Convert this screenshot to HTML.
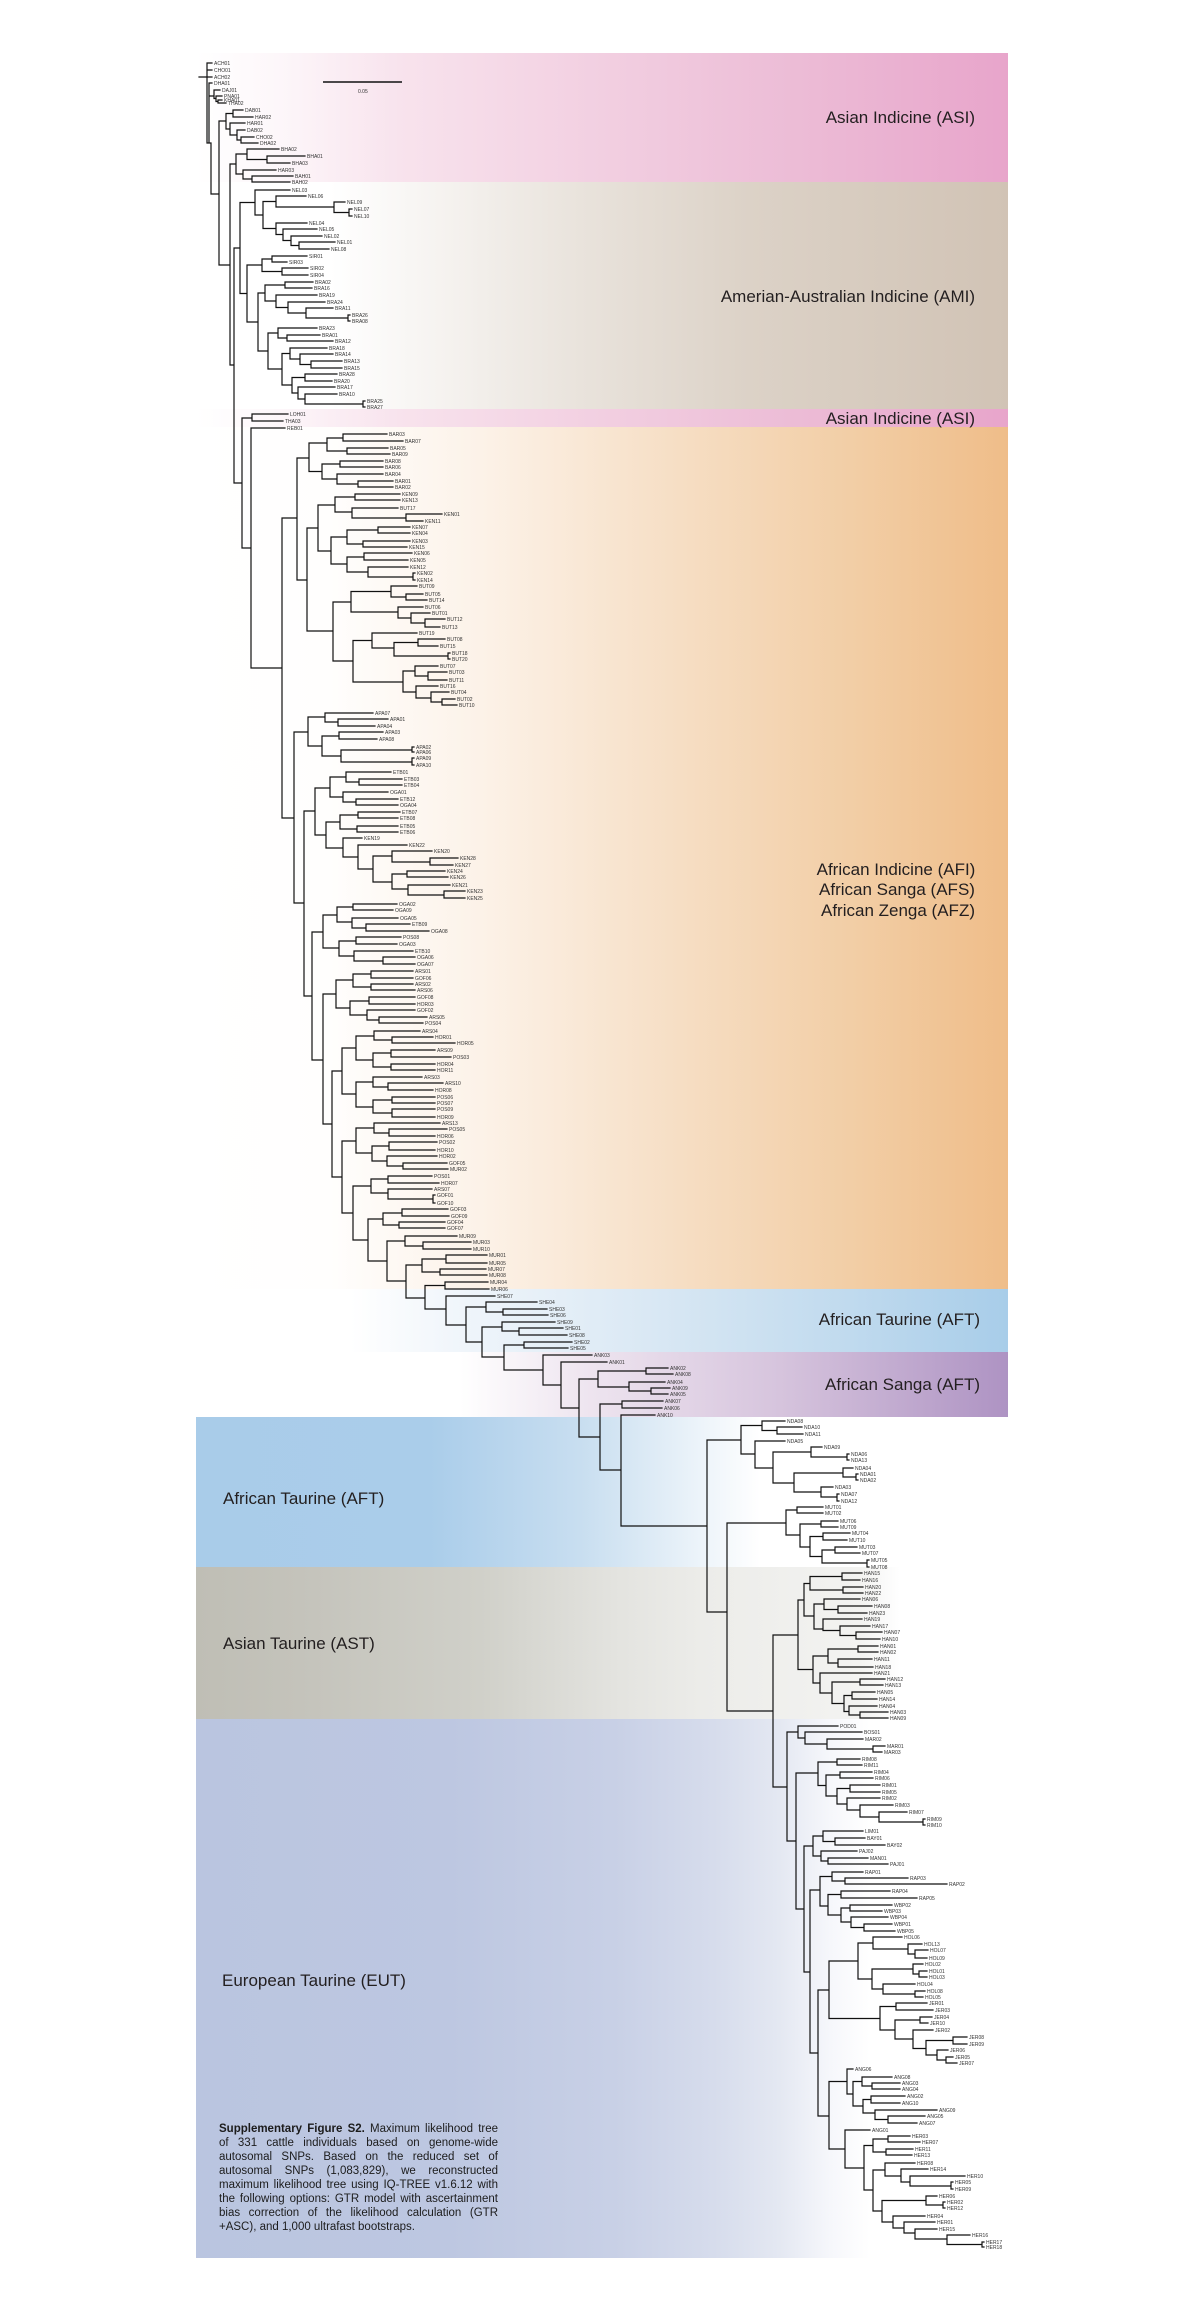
<!DOCTYPE html>
<html><head><meta charset="utf-8">
<style>
html,body{margin:0;padding:0;background:#fff;}
body{width:1200px;height:2310px;position:relative;overflow:hidden;font-family:"Liberation Sans",Arial,sans-serif;}
svg{position:absolute;left:0;top:0;}
.cap{position:absolute;left:219px;top:2122px;width:279px;font-size:11.5px;line-height:14px;color:#1c1c1c;font-family:"Liberation Sans",Arial,sans-serif;}
.cap div{text-align:justify;text-align-last:justify;}
.cap div.l{text-align:left;text-align-last:left;}
</style></head><body>
<svg width="1200" height="2310" viewBox="0 0 1200 2310" xmlns="http://www.w3.org/2000/svg">
<defs>
<linearGradient id="gASI" gradientUnits="userSpaceOnUse" x1="196" y1="0" x2="1008" y2="0">
<stop offset="0" stop-color="#ffffff"/><stop offset="0.10" stop-color="#fdf7fa"/><stop offset="0.25" stop-color="#f8e3ed"/><stop offset="0.50" stop-color="#f2cfe1"/><stop offset="0.74" stop-color="#ecbcd6"/><stop offset="1" stop-color="#e8a5cb"/>
</linearGradient>
<linearGradient id="gAMI" gradientUnits="userSpaceOnUse" x1="196" y1="0" x2="1008" y2="0">
<stop offset="0" stop-color="#ffffff"/><stop offset="0.165" stop-color="#ffffff"/><stop offset="0.31" stop-color="#f5f2ef"/><stop offset="0.473" stop-color="#e9e3dc"/><stop offset="0.68" stop-color="#dcd2c7"/><stop offset="1" stop-color="#d1c3b5"/>
</linearGradient>
<linearGradient id="gAFR" gradientUnits="userSpaceOnUse" x1="196" y1="0" x2="1008" y2="0">
<stop offset="0" stop-color="#ffffff"/><stop offset="0.165" stop-color="#fffefd"/><stop offset="0.35" stop-color="#fcf2e8"/><stop offset="0.596" stop-color="#f6dec4"/><stop offset="0.805" stop-color="#f2cea6"/><stop offset="1" stop-color="#efbd89"/>
</linearGradient>
<linearGradient id="gAFTR" gradientUnits="userSpaceOnUse" x1="196" y1="0" x2="1008" y2="0">
<stop offset="0" stop-color="#ffffff"/><stop offset="0.19" stop-color="#ffffff"/><stop offset="0.313" stop-color="#f1f6fb"/><stop offset="0.596" stop-color="#d6e6f3"/><stop offset="0.805" stop-color="#c0daee"/><stop offset="1" stop-color="#a8cde9"/>
</linearGradient>
<linearGradient id="gSAN" gradientUnits="userSpaceOnUse" x1="196" y1="0" x2="1008" y2="0">
<stop offset="0" stop-color="#ffffff"/><stop offset="0.325" stop-color="#ffffff"/><stop offset="0.473" stop-color="#efe6f0"/><stop offset="0.719" stop-color="#d6c4dd"/><stop offset="1" stop-color="#ae93c3"/>
</linearGradient>
<linearGradient id="gAFTL" gradientUnits="userSpaceOnUse" x1="196" y1="0" x2="1008" y2="0">
<stop offset="0" stop-color="#a9cce9"/><stop offset="0.288" stop-color="#aacdea"/><stop offset="0.473" stop-color="#c8def0"/><stop offset="0.596" stop-color="#e6f0f8"/><stop offset="0.695" stop-color="#ffffff"/><stop offset="1" stop-color="#ffffff"/>
</linearGradient>
<linearGradient id="gAST" gradientUnits="userSpaceOnUse" x1="196" y1="0" x2="1008" y2="0">
<stop offset="0" stop-color="#bfbeb5"/><stop offset="0.128" stop-color="#c4c3bb"/><stop offset="0.35" stop-color="#d0d0c9"/><stop offset="0.514" stop-color="#e3e3df"/><stop offset="0.621" stop-color="#ecece9"/><stop offset="0.818" stop-color="#f3f3f1"/><stop offset="0.867" stop-color="#ffffff"/><stop offset="1" stop-color="#ffffff"/>
</linearGradient>
<linearGradient id="gEUT" gradientUnits="userSpaceOnUse" x1="196" y1="0" x2="1008" y2="0">
<stop offset="0" stop-color="#bac5e0"/><stop offset="0.313" stop-color="#bdc7e1"/><stop offset="0.514" stop-color="#c8d0e6"/><stop offset="0.637" stop-color="#d6dcec"/><stop offset="0.719" stop-color="#e4e8f2"/><stop offset="0.781" stop-color="#f6f7fb"/><stop offset="0.83" stop-color="#ffffff"/><stop offset="1" stop-color="#ffffff"/>
</linearGradient>
</defs>

<rect x="196" y="53" width="812" height="129" fill="url(#gASI)"/>
<rect x="196" y="182" width="812" height="227" fill="url(#gAMI)"/>
<rect x="196" y="409" width="812" height="18" fill="url(#gASI)"/>
<rect x="196" y="427" width="812" height="862" fill="url(#gAFR)"/>
<rect x="196" y="1289" width="812" height="63" fill="url(#gAFTR)"/>
<rect x="196" y="1352" width="812" height="65" fill="url(#gSAN)"/>
<rect x="196" y="1417" width="812" height="150" fill="url(#gAFTL)"/>
<rect x="196" y="1567" width="812" height="152" fill="url(#gAST)"/>
<rect x="196" y="1719" width="812" height="539" fill="url(#gEUT)"/>

<g font-family="Liberation Sans, Arial, sans-serif" font-size="17" fill="#231f20">
<text x="975" y="123" text-anchor="end">Asian Indicine (ASI)</text>
<text x="975" y="302" text-anchor="end">Amerian-Australian Indicine (AMI)</text>
<text x="975" y="424" text-anchor="end">Asian Indicine (ASI)</text>
<text x="896" y="875" text-anchor="middle">African Indicine (AFI)</text>
<text x="897" y="895" text-anchor="middle">African Sanga (AFS)</text>
<text x="898" y="916" text-anchor="middle">African Zenga (AFZ)</text>
<text x="980" y="1325" text-anchor="end">African Taurine (AFT)</text>
<text x="980" y="1390" text-anchor="end">African Sanga (AFT)</text>
<text x="223" y="1504">African Taurine (AFT)</text>
<text x="223" y="1649">Asian Taurine (AST)</text>
<text x="222" y="1986">European Taurine (EUT)</text>
</g>

<path d="M323 82H402" stroke="#111" stroke-width="1.4" fill="none"/>
<text x="358" y="93" font-size="5" font-family="Liberation Sans, Arial, sans-serif" fill="#333">0.05</text>

<g stroke="#111" stroke-width="1.2" fill="none" stroke-linecap="square">
<path d="M199 77H207 M207 63V143 M209 83V143 M207 143H211 M211 143V194 M207 63H212 M207 70H212 M207 77H212 M209 83H212 M209 96H214 M214 90V98.5 M214 90H220 M214 98.5H216 M216 96V101.5 M216 96H222 M216 101.5H218 M218 100V103 M218 100H222 M218 103H226
M211 194H219 M219 121V265 M219 121H226 M226 113.5V129 M226 113.5H233 M233 110V117 M233 110H243 M233 117H253 M226 129H230 M230 123V135 M230 123H245 M230 135H237 M237 130V140 M237 130H245 M237 140H241 M241 137V143 M241 137H254 M241 143H258
M219 265H230 M230 164V365 M230 164H236 M236 154V174 M236 154H247 M247 149V159.5 M247 149H279 M247 159.5H267 M267 156V163 M267 156H305 M267 163H290 M236 174H243 M243 170V179 M243 170H276 M243 179H252 M252 176V182 M252 176H293 M252 182H290
M230 365H234 M234 248V483 M234 248H240 M240 202.5V293.5 M240 202.5H255 M255 190V215 M255 190H290 M255 215H263 M263 201.5V228.5 M263 201.5H276 M276 196V207 M276 196H306 M276 207H334 M334 202V212.5 M334 202H345 M334 212.5H349 M349 209V216 M349 209H352 M349 216H352 M263 228.5H276 M276 223V234.5 M276 223H307 M276 234.5H283 M283 229V240.5 M283 229H317 M283 240.5H291 M291 236V245.5 M291 236H322 M291 245.5H299 M299 242V249 M299 242H335 M299 249H329
M240 293.5H247 M247 265V322 M247 265H262 M262 259V271.5 M262 259H272 M272 256V262 M272 256H307 M272 262H287 M262 271.5H282 M282 268V275 M282 268H308 M282 275H308
M247 322H258 M258 293V351 M258 293H265 M265 285V301 M265 285H285 M285 282V288 M285 282H313 M285 288H312 M265 301H276 M276 295V307.5 M276 295H317 M276 307.5H288 M288 302V313 M288 302H325 M288 313H306 M306 308V318 M306 308H333 M306 318H348 M348 315V321 M348 315H350 M348 321H350
M258 351H268 M268 333V369 M268 333H278 M278 328V338 M278 328H317 M278 338H287 M287 335V341 M287 335H320 M287 341H333 M268 369H282 M282 353.5V385 M282 353.5H290 M290 348V359 M290 348H327 M290 359H300 M300 354V364.5 M300 354H333 M300 364.5H311 M311 361V368 M311 361H342 M311 368H342 M282 385H292 M292 377.5V393 M292 377.5H305 M305 374V381 M305 374H337 M305 381H332 M292 393H298 M298 387V399 M298 387H335 M298 399H305 M305 394V404 M305 394H337 M305 404H363 M363 401V407 M363 401H365 M363 407H365
M234 483H242 M242 418V548 M242 418H252 M252 414V421 M252 414H288 M252 421H283 M242 548H251 M251 428V668 M251 428H285 M251 668H282 M282 518V818
M282 518H297 M297 458V580 M297 458H309 M309 443V471.5 M309 443H327 M327 438V451 M327 438H343 M343 434V441 M343 434H387 M343 441H403 M327 451H347 M347 448V454 M347 448H388 M347 454H390 M309 471.5H322 M322 464V479 M322 464H340 M340 461V467 M340 461H383 M340 467H383 M322 479H337 M337 474V484 M337 474H383 M337 484H358 M358 481V487 M358 481H393 M358 487H393
M297 580H307 M307 528V631 M307 528H318 M318 505V551 M318 505H335 M335 497V512 M335 497H355 M355 494V500 M355 494H400 M355 500H400 M335 512H352 M352 508V518 M352 508H398 M352 518H406 M406 514V521 M406 514H442 M406 521H423 M318 551H331 M331 537V564 M331 537H347 M347 530V544 M347 530H378 M378 527V533 M378 527H410 M378 533H410 M347 544H363 M363 541V547 M363 541H410 M363 547H407 M331 564H347 M347 557V572 M347 557H364 M364 553V560 M364 553H412 M364 560H408 M347 572H368 M368 567V577 M368 567H408 M368 577H413 M413 573V580 M413 573H415 M413 580H415
M307 631H333 M333 602V661 M333 602H351 M351 591.5V612 M351 591.5H391 M391 586V597 M391 586H417 M391 597H406 M406 594V600 M406 594H423 M406 600H427 M351 612H398 M398 607V618 M398 607H423 M398 618H411 M411 613V623 M411 613H430 M411 623H425 M425 619V627 M425 619H445 M425 627H440 M333 661H353 M353 640.5V682 M353 640.5H372 M372 633V648 M372 633H417 M372 648H394 M394 642.5V656 M394 642.5H418 M418 639V646 M418 639H445 M418 646H438 M394 656H448 M448 653V659 M448 653H450 M448 659H450 M353 682H403 M403 671V692 M403 671H415 M415 666V676 M415 666H438 M415 676H428 M428 672V680 M428 672H447 M428 680H447 M403 692H416 M416 686V698 M416 686H438 M416 698H431 M431 692V702 M431 692H449 M431 702H442 M442 699V705 M442 699H455 M442 705H457
M282 818H294 M294 732V903 M294 732H308 M308 717V746 M308 717H325 M325 713V722 M325 713H373 M325 722H338 M338 719V726 M338 719H388 M338 726H375 M308 746H322 M322 736V756 M322 736H339 M339 732V739 M339 732H383 M339 739H377 M322 756H341 M341 750V762 M341 750H412 M412 747V752 M412 747H414 M412 752H414 M341 762H412 M412 758V765 M412 758H414 M412 765H414
M294 903H304 M304 811V996 M304 811H315 M315 788V835 M315 788H330 M330 777V797 M330 777H346 M346 772V782 M346 772H391 M346 782H359 M359 779V785 M359 779H402 M359 785H402 M330 797H343 M343 792V802 M343 792H388 M343 802H356 M356 799V805 M356 799H398 M356 805H398 M315 835H326 M326 822V848 M326 822H340 M340 815V829 M340 815H358 M358 812V818 M358 812H400 M358 818H398 M340 829H357 M357 826V832 M357 826H398 M357 832H398 M326 848H343 M343 838V857 M343 838H362 M343 857H358 M358 845V869 M358 845H407 M358 869H373 M373 856V882 M373 856H392 M392 851V862 M392 851H432 M392 862H430 M430 858V865 M430 858H458 M430 865H453 M373 882H392 M392 874V889 M392 874H407 M407 871V877 M407 871H445 M407 877H448 M392 889H408 M408 885V895 M408 885H450 M408 895H444 M444 891V898 M444 891H465 M444 898H465
M304 996H312 M312 932V1060 M312 932H323 M323 915V948 M323 915H337 M337 907V922 M337 907H353 M353 904V910 M353 904H397 M353 910H393 M337 922H352 M352 918V928 M352 918H398 M352 928H366 M366 924V931 M366 924H410 M366 931H429 M323 948H339 M339 941V956 M339 941H356 M356 937V944 M356 937H401 M356 944H397 M339 956H354 M354 951V961 M354 951H413 M354 961H383 M383 957V964 M383 957H415 M383 964H415
M312 1060H323 M323 994V1124 M323 994H336 M336 980V1008 M336 980H353 M353 974V987 M353 974H371 M371 971V978 M371 971H413 M371 978H413 M353 987H371 M371 984V990 M371 984H413 M371 990H415 M336 1008H350 M350 1001V1015 M350 1001H369 M369 997V1004 M369 997H415 M369 1004H415 M350 1015H367 M367 1010V1020 M367 1010H415 M367 1020H379 M379 1017V1023 M379 1017H427 M379 1023H423
M323 1124H332 M332 1071V1177 M332 1071H342 M342 1048V1094 M342 1048H356 M356 1036V1060 M356 1036H374 M374 1031V1040 M374 1031H420 M374 1040H392 M392 1037V1043 M392 1037H433 M392 1043H455 M356 1060H373 M373 1053V1067 M373 1053H391 M391 1050V1057 M391 1050H435 M391 1057H451 M373 1067H391 M391 1064V1070 M391 1064H435 M391 1070H435 M342 1094H356 M356 1082V1107 M356 1082H373 M373 1077V1087 M373 1077H422 M373 1087H388 M388 1083V1090 M388 1083H443 M388 1090H433 M356 1107H373 M373 1100V1113 M373 1100H392 M392 1097V1103 M392 1097H435 M392 1103H435 M373 1113H392 M392 1109V1117 M392 1109H435 M392 1117H435
M332 1177H342 M342 1141V1213 M342 1141H356 M356 1128V1153 M356 1128H374 M374 1123V1133 M374 1123H440 M374 1133H389 M389 1129V1136 M389 1129H447 M389 1136H435 M356 1153H372 M372 1146V1161 M372 1146H389 M389 1142V1150 M389 1142H437 M389 1150H435 M372 1161H387 M387 1156V1166 M387 1156H437 M387 1166H403 M403 1163V1169 M403 1163H447 M403 1169H448
M342 1213H353 M353 1186V1240 M353 1186H371 M371 1179V1193 M371 1179H388 M388 1176V1183 M388 1176H432 M388 1183H439 M371 1193H388 M388 1189V1199 M388 1189H432 M388 1199H433 M433 1195V1203 M433 1195H435 M433 1203H435 M353 1240H368 M368 1219V1261 M368 1219H383 M383 1213V1225 M383 1213H402 M402 1209V1216 M402 1209H448 M402 1216H449 M383 1225H399 M399 1222V1228 M399 1222H445 M399 1228H445
M368 1261H387 M387 1241V1281 M387 1241H405 M405 1236V1246 M405 1236H457 M405 1246H423 M423 1242V1249 M423 1242H471 M423 1249H471 M387 1281H406 M406 1265V1298 M406 1265H422 M422 1259V1272 M422 1259H446 M446 1255V1263 M446 1255H487 M446 1263H487 M422 1272H440 M440 1269V1275 M440 1269H486 M440 1275H487 M406 1298H425 M425 1285.5V1309 M425 1285.5H445 M445 1282V1289 M445 1282H488 M445 1289H489
M425 1309H446 M446 1296V1325 M446 1296H495 M446 1325H466 M466 1307V1342 M466 1307H486 M486 1302V1312 M486 1302H537 M486 1312H503 M503 1309V1315 M503 1309H547 M503 1315H548 M466 1342H482 M482 1327V1357 M482 1327H502 M502 1322V1331 M502 1322H555 M502 1331H519 M519 1328V1335 M519 1328H563 M519 1335H567 M482 1357H504 M504 1345V1370 M504 1345H524 M524 1342V1348 M524 1342H572 M524 1348H568
M504 1370H543 M543 1355V1385 M543 1355H592 M543 1385H561 M561 1362V1408 M561 1362H607 M561 1408H579 M579 1379V1437 M579 1379H598 M598 1371V1387 M598 1371H646 M646 1368V1374 M646 1368H668 M646 1374H673 M598 1387H629 M629 1382V1391 M629 1382H665 M629 1391H651 M651 1388V1394 M651 1388H670 M651 1394H668 M579 1437H600 M600 1404V1470 M600 1404H622 M622 1401V1408 M622 1401H663 M622 1408H662 M600 1470H621 M621 1415V1526 M621 1415H655 M621 1526H707 M707 1440V1612
M707 1440H741 M741 1425.5V1454 M741 1425.5H762 M762 1421V1430.5 M762 1421H785 M762 1430.5H777 M777 1427V1434 M777 1427H802 M777 1434H803 M741 1454H755 M755 1441V1468 M755 1441H785 M755 1468H773 M773 1452V1483 M773 1452H811 M811 1447V1457 M811 1447H822 M811 1457H847 M847 1454V1460 M847 1454H849 M847 1460H849 M773 1483H794 M794 1473V1492 M794 1473H843 M843 1468V1477 M843 1468H853 M843 1477H856 M856 1474V1480 M856 1474H858 M856 1480H858 M794 1492H821 M821 1487V1497 M821 1487H833 M821 1497H837 M837 1494V1501 M837 1494H839 M837 1501H839
M707 1612H727 M727 1523V1711 M727 1523H786 M786 1510V1535 M786 1510H797 M797 1507V1513 M797 1507H823 M797 1513H823 M786 1535H800 M800 1524V1547 M800 1524H821 M821 1521V1527 M821 1521H838 M821 1527H838 M800 1547H810 M810 1536.5V1556.5 M810 1536.5H823 M823 1533V1540 M823 1533H850 M823 1540H847 M810 1556.5H822 M822 1550V1563 M822 1550H835 M835 1547V1553 M835 1547H857 M835 1553H860 M822 1563H867 M867 1560V1567 M867 1560H869 M867 1567H869
M727 1711H773 M773 1635V1787 M773 1635H798 M798 1600V1669.5 M798 1600H804 M804 1583.5V1616 M804 1583.5H810 M810 1576.5V1590 M810 1576.5H842 M842 1573V1580 M842 1573H862 M842 1580H860 M810 1590H843 M843 1587V1593 M843 1587H863 M843 1593H863 M804 1616H814 M814 1604V1629 M814 1604H824 M824 1599V1609.5 M824 1599H860 M824 1609.5H838 M838 1606V1613 M838 1606H872 M838 1613H867 M814 1629H823 M823 1619V1630.5 M823 1619H862 M823 1630.5H840 M840 1626V1635.5 M840 1626H870 M840 1635.5H856 M856 1632V1639 M856 1632H882 M856 1639H880
M798 1669.5H813 M813 1656V1683 M813 1656H828 M828 1649V1663 M828 1649H858 M858 1646V1652 M858 1646H878 M858 1652H878 M828 1663H838 M838 1659V1667 M838 1659H872 M838 1667H873 M813 1683H820 M820 1673V1693 M820 1673H872 M820 1693H832 M832 1682V1703.5 M832 1682H860 M860 1679V1685 M860 1679H885 M860 1685H883 M832 1703.5H844 M844 1695.5V1711.5 M844 1695.5H852 M852 1692V1699 M852 1692H875 M852 1699H877 M844 1711.5H849 M849 1706V1715 M849 1706H877 M849 1715H860 M860 1712V1718 M860 1712H888 M860 1718H888
M773 1787H787 M787 1732V1841 M787 1732H798 M798 1726V1738 M798 1726H838 M798 1738H805 M805 1732V1744 M805 1732H862 M805 1744H827 M827 1739V1749 M827 1739H863 M827 1749H873 M873 1746V1752 M873 1746H885 M873 1752H882
M787 1841H796 M796 1773V1909 M796 1773H818 M818 1762V1785.5 M818 1762H837 M837 1759V1765 M837 1759H860 M837 1765H862 M818 1785.5H826 M826 1775V1796 M826 1775H840 M840 1772V1778 M840 1772H872 M840 1778H873 M826 1796H837 M837 1788.5V1804 M837 1788.5H850 M850 1785V1792 M850 1785H880 M850 1792H880 M837 1804H847 M847 1798V1810 M847 1798H880 M847 1810H860 M860 1805V1817 M860 1805H893 M860 1817H879 M879 1812V1822 M879 1812H907 M879 1822H923 M923 1819V1825 M923 1819H925 M923 1825H925
M796 1909H804 M804 1846V1972 M804 1846H813 M813 1836V1856 M813 1836H823 M823 1831V1841.5 M823 1831H863 M823 1841.5H835 M835 1838V1845 M835 1838H865 M835 1845H885 M813 1856H821 M821 1851V1861 M821 1851H857 M821 1861H828 M828 1858V1864 M828 1858H868 M828 1864H888
M804 1972H810 M810 1890V2053 M810 1890H820 M820 1876.5V1906 M820 1876.5H832 M832 1872V1881 M832 1872H863 M832 1881H845 M845 1878V1884 M845 1878H908 M845 1884H947 M820 1906H828 M828 1894.5V1915 M828 1894.5H841 M841 1891V1898 M841 1891H890 M841 1898H917 M828 1915H841 M841 1908V1922 M841 1908H850 M850 1905V1911 M850 1905H892 M850 1911H882 M841 1922H851 M851 1917V1927.5 M851 1917H888 M851 1927.5H864 M864 1924V1931 M864 1924H892 M864 1931H895
M810 2053H818 M818 1990V2116 M818 1990H829 M829 1961V2018.5 M829 1961H858 M858 1943V1979 M858 1943H873 M873 1937V1949 M873 1937H902 M873 1949H908 M908 1944V1954 M908 1944H922 M908 1954H915 M915 1950V1958 M915 1950H928 M915 1958H927 M858 1979H872 M872 1969V1989 M872 1969H913 M913 1964V1974 M913 1964H923 M913 1974H919 M919 1971V1977 M919 1971H927 M919 1977H927 M872 1989H883 M883 1984V1994 M883 1984H915 M883 1994H915 M915 1991V1997 M915 1991H925 M915 1997H923
M829 2018.5H880 M880 2006.5V2030 M880 2006.5H896 M896 2003V2010 M896 2003H927 M896 2010H933 M880 2030H895 M895 2020V2039 M895 2020H920 M920 2017V2023 M920 2017H932 M920 2023H928 M895 2039H913 M913 2030V2048.5 M913 2030H933 M913 2048.5H926 M926 2040.5V2055 M926 2040.5H953 M953 2037V2044 M953 2037H967 M953 2044H967 M926 2055H937 M937 2050V2060 M937 2050H948 M937 2060H946 M946 2057V2063 M946 2057H953 M946 2063H957
M818 2116H829 M829 2081.5V2149 M829 2081.5H847 M847 2069V2094 M847 2069H853 M847 2094H853 M853 2081.5V2106 M853 2081.5H862 M862 2077V2086 M862 2077H892 M862 2086H872 M872 2083V2089 M872 2083H900 M872 2089H900 M853 2106H863 M863 2099.5V2113 M863 2099.5H871 M871 2096V2103 M871 2096H905 M871 2103H900 M863 2113H875 M875 2110V2119.5 M875 2110H937 M875 2119.5H888 M888 2116V2123 M888 2116H925 M888 2123H917
M829 2149H845 M845 2130V2168 M845 2130H870 M845 2168H864 M864 2145.5V2190 M864 2145.5H873 M873 2139V2152 M873 2139H888 M888 2136V2142 M888 2136H910 M888 2142H920 M873 2152H886 M886 2149V2155 M886 2149H913 M886 2155H912 M864 2190H873 M873 2170V2211 M873 2170H885 M885 2163V2176 M885 2163H915 M885 2176H901 M901 2169V2182 M901 2169H928 M901 2182H910 M910 2176V2186 M910 2176H965 M910 2186H951 M951 2182V2189 M951 2182H953 M951 2189H953 M873 2211H882 M882 2200.5V2222 M882 2200.5H926 M926 2196V2205 M926 2196H937 M926 2205H943 M943 2202V2208 M943 2202H945 M943 2208H945 M882 2222H893 M893 2216V2228 M893 2216H925 M893 2228H904 M904 2222V2233 M904 2222H935 M904 2233H915 M915 2229V2239 M915 2229H937 M915 2239H947 M947 2235V2244.5 M947 2235H970 M947 2244.5H982 M982 2242V2247 M982 2242H984 M982 2247H984"/>
</g>

<g font-family="Liberation Sans, Arial, sans-serif" font-size="5" fill="#333">
<text x="214" y="64.8">ACH01</text><text x="214" y="71.8">CHO01</text><text x="214" y="78.8">ACH02</text><text x="214" y="84.8">DHA01</text><text x="222" y="91.8">DAJ01</text><text x="224" y="97.8">PNA01</text><text x="224" y="101.8">KHA01</text><text x="228" y="104.8">THA02</text>
<text x="245" y="111.8">DAB01</text><text x="255" y="118.8">HAR02</text><text x="247" y="124.8">HAR01</text><text x="247" y="131.8">DAB02</text><text x="256" y="138.8">CHO02</text><text x="260" y="144.8">DHA02</text>
<text x="281" y="150.8">BHA02</text><text x="307" y="157.8">BHA01</text><text x="292" y="164.8">BHA03</text><text x="278" y="171.8">HAR03</text><text x="295" y="177.8">BAH01</text><text x="292" y="183.8">BAH02</text>
<text x="292" y="191.8">NEL03</text><text x="308" y="197.8">NEL06</text><text x="347" y="203.8">NEL09</text><text x="354" y="210.8">NEL07</text><text x="354" y="217.8">NEL10</text><text x="309" y="224.8">NEL04</text><text x="319" y="230.8">NEL05</text><text x="324" y="237.8">NEL02</text><text x="337" y="243.8">NEL01</text><text x="331" y="250.8">NEL08</text>
<text x="309" y="257.8">SIR01</text><text x="289" y="263.8">SIR03</text><text x="310" y="269.8">SIR02</text><text x="310" y="276.8">SIR04</text>
<text x="315" y="283.8">BRA02</text><text x="314" y="289.8">BRA16</text><text x="319" y="296.8">BRA19</text><text x="327" y="303.8">BRA24</text><text x="335" y="309.8">BRA11</text><text x="352" y="316.8">BRA26</text><text x="352" y="322.8">BRA08</text><text x="319" y="329.8">BRA23</text><text x="322" y="336.8">BRA01</text><text x="335" y="342.8">BRA12</text><text x="329" y="349.8">BRA18</text><text x="335" y="355.8">BRA14</text><text x="344" y="362.8">BRA13</text><text x="344" y="369.8">BRA15</text><text x="339" y="375.8">BRA28</text><text x="334" y="382.8">BRA20</text><text x="337" y="388.8">BRA17</text><text x="339" y="395.8">BRA10</text><text x="367" y="402.8">BRA25</text><text x="367" y="408.8">BRA27</text>
<text x="290" y="415.8">LOH01</text><text x="285" y="422.8">THA03</text><text x="287" y="429.8">REB01</text>
<text x="389" y="435.8">BAR03</text><text x="405" y="442.8">BAR07</text><text x="390" y="449.8">BAR05</text><text x="392" y="455.8">BAR09</text><text x="385" y="462.8">BAR08</text><text x="385" y="468.8">BAR06</text><text x="385" y="475.8">BAR04</text><text x="395" y="482.8">BAR01</text><text x="395" y="488.8">BAR02</text>
<text x="402" y="495.8">KEN09</text><text x="402" y="501.8">KEN13</text><text x="400" y="509.8">BUT17</text><text x="444" y="515.8">KEN01</text><text x="425" y="522.8">KEN11</text><text x="412" y="528.8">KEN07</text><text x="412" y="534.8">KEN04</text><text x="412" y="542.8">KEN03</text><text x="409" y="548.8">KEN15</text><text x="414" y="554.8">KEN06</text><text x="410" y="561.8">KEN05</text><text x="410" y="568.8">KEN12</text><text x="417" y="574.8">KEN02</text><text x="417" y="581.8">KEN14</text>
<text x="419" y="587.8">BUT09</text><text x="425" y="595.8">BUT05</text><text x="429" y="601.8">BUT14</text><text x="425" y="608.8">BUT06</text><text x="432" y="614.8">BUT01</text><text x="447" y="620.8">BUT12</text><text x="442" y="628.8">BUT13</text><text x="419" y="634.8">BUT19</text><text x="447" y="640.8">BUT08</text><text x="440" y="647.8">BUT15</text><text x="452" y="654.8">BUT18</text><text x="452" y="660.8">BUT20</text><text x="440" y="667.8">BUT07</text><text x="449" y="673.8">BUT03</text><text x="449" y="681.8">BUT11</text><text x="440" y="687.8">BUT16</text><text x="451" y="693.8">BUT04</text><text x="457" y="700.8">BUT02</text><text x="459" y="706.8">BUT10</text>
<text x="375" y="714.8">APA07</text><text x="390" y="720.8">APA01</text><text x="377" y="727.8">APA04</text><text x="385" y="733.8">APA03</text><text x="379" y="740.8">APA08</text><text x="416" y="748.8">APA02</text><text x="416" y="753.8">APA06</text><text x="416" y="759.8">APA09</text><text x="416" y="766.8">APA10</text>
<text x="393" y="773.8">ETB01</text><text x="404" y="780.8">ETB03</text><text x="404" y="786.8">ETB04</text><text x="390" y="793.8">OGA01</text><text x="400" y="800.8">ETB12</text><text x="400" y="806.8">OGA04</text><text x="402" y="813.8">ETB07</text><text x="400" y="819.8">ETB08</text><text x="400" y="827.8">ETB05</text><text x="400" y="833.8">ETB06</text>
<text x="364" y="839.8">KEN19</text><text x="409" y="846.8">KEN22</text><text x="434" y="852.8">KEN20</text><text x="460" y="859.8">KEN28</text><text x="455" y="866.8">KEN27</text><text x="447" y="872.8">KEN24</text><text x="450" y="878.8">KEN26</text><text x="452" y="886.8">KEN21</text><text x="467" y="892.8">KEN23</text><text x="467" y="899.8">KEN25</text>
<text x="399" y="905.8">OGA02</text><text x="395" y="911.8">OGA09</text><text x="400" y="919.8">OGA05</text><text x="412" y="925.8">ETB09</text><text x="431" y="932.8">OGA08</text><text x="403" y="938.8">POS08</text><text x="399" y="945.8">OGA03</text><text x="415" y="952.8">ETB10</text><text x="417" y="958.8">OGA06</text><text x="417" y="965.8">OGA07</text>
<text x="415" y="972.8">ARS01</text><text x="415" y="979.8">GOF06</text><text x="415" y="985.8">ARS02</text><text x="417" y="991.8">ARS06</text><text x="417" y="998.8">GOF08</text><text x="417" y="1005.8">HOR03</text><text x="417" y="1011.8">GOF02</text><text x="429" y="1018.8">ARS05</text><text x="425" y="1024.8">POS04</text>
<text x="422" y="1032.8">ARS04</text><text x="435" y="1038.8">HOR01</text><text x="457" y="1044.8">HOR05</text><text x="437" y="1051.8">ARS09</text><text x="453" y="1058.8">POS03</text><text x="437" y="1065.8">HOR04</text><text x="437" y="1071.8">HOR11</text><text x="424" y="1078.8">ARS03</text><text x="445" y="1084.8">ARS10</text><text x="435" y="1091.8">HOR08</text><text x="437" y="1098.8">POS06</text><text x="437" y="1104.8">POS07</text><text x="437" y="1110.8">POS09</text><text x="437" y="1118.8">HOR09</text>
<text x="442" y="1124.8">ARS13</text><text x="449" y="1130.8">POS05</text><text x="437" y="1137.8">HOR06</text><text x="439" y="1143.8">POS02</text><text x="437" y="1151.8">HOR10</text><text x="439" y="1157.8">HOR02</text><text x="449" y="1164.8">GOF05</text><text x="450" y="1170.8">MUR02</text><text x="434" y="1177.8">POS01</text><text x="441" y="1184.8">HOR07</text><text x="434" y="1190.8">ARS07</text><text x="437" y="1196.8">GOF01</text><text x="437" y="1204.8">GOF10</text><text x="450" y="1210.8">GOF03</text><text x="451" y="1217.8">GOF09</text><text x="447" y="1223.8">GOF04</text><text x="447" y="1229.8">GOF07</text>
<text x="459" y="1237.8">MUR09</text><text x="473" y="1243.8">MUR03</text><text x="473" y="1250.8">MUR10</text><text x="489" y="1256.8">MUR01</text><text x="489" y="1264.8">MUR05</text><text x="488" y="1270.8">MUR07</text><text x="489" y="1276.8">MUR08</text><text x="490" y="1283.8">MUR04</text><text x="491" y="1290.8">MUR06</text>
<text x="497" y="1297.8">SHE07</text><text x="539" y="1303.8">SHE04</text><text x="549" y="1310.8">SHE03</text><text x="550" y="1316.8">SHE06</text><text x="557" y="1323.8">SHE09</text><text x="565" y="1329.8">SHE01</text><text x="569" y="1336.8">SHE08</text><text x="574" y="1343.8">SHE02</text><text x="570" y="1349.8">SHE05</text>
<text x="594" y="1356.8">ANK03</text><text x="609" y="1363.8">ANK01</text><text x="670" y="1369.8">ANK02</text><text x="675" y="1375.8">ANK08</text><text x="667" y="1383.8">ANK04</text><text x="672" y="1389.8">ANK09</text><text x="670" y="1395.8">ANK05</text><text x="665" y="1402.8">ANK07</text><text x="664" y="1409.8">ANK06</text><text x="657" y="1416.8">ANK10</text>
<text x="787" y="1422.8">NDA08</text><text x="804" y="1428.8">NDA10</text><text x="805" y="1435.8">NDA11</text><text x="787" y="1442.8">NDA05</text><text x="824" y="1448.8">NDA09</text><text x="851" y="1455.8">NDA06</text><text x="851" y="1461.8">NDA13</text><text x="855" y="1469.8">NDA04</text><text x="860" y="1475.8">NDA01</text><text x="860" y="1481.8">NDA02</text><text x="835" y="1488.8">NDA03</text><text x="841" y="1495.8">NDA07</text><text x="841" y="1502.8">NDA12</text>
<text x="825" y="1508.8">MUT01</text><text x="825" y="1514.8">MUT02</text><text x="840" y="1522.8">MUT06</text><text x="840" y="1528.8">MUT09</text><text x="852" y="1534.8">MUT04</text><text x="849" y="1541.8">MUT10</text><text x="859" y="1548.8">MUT03</text><text x="862" y="1554.8">MUT07</text><text x="871" y="1561.8">MUT05</text><text x="871" y="1568.8">MUT08</text>
<text x="864" y="1574.8">HAN15</text><text x="862" y="1581.8">HAN16</text><text x="865" y="1588.8">HAN20</text><text x="865" y="1594.8">HAN22</text><text x="862" y="1600.8">HAN06</text><text x="874" y="1607.8">HAN08</text><text x="869" y="1614.8">HAN23</text><text x="864" y="1620.8">HAN19</text><text x="872" y="1627.8">HAN17</text><text x="884" y="1633.8">HAN07</text><text x="882" y="1640.8">HAN10</text><text x="880" y="1647.8">HAN01</text><text x="880" y="1653.8">HAN02</text><text x="874" y="1660.8">HAN11</text><text x="875" y="1668.8">HAN18</text><text x="874" y="1674.8">HAN21</text><text x="887" y="1680.8">HAN12</text><text x="885" y="1686.8">HAN13</text><text x="877" y="1693.8">HAN05</text><text x="879" y="1700.8">HAN14</text><text x="879" y="1707.8">HAN04</text><text x="890" y="1713.8">HAN03</text><text x="890" y="1719.8">HAN09</text>
<text x="840" y="1727.8">POD01</text><text x="864" y="1733.8">BOS01</text><text x="865" y="1740.8">MAR02</text><text x="887" y="1747.8">MAR01</text><text x="884" y="1753.8">MAR03</text>
<text x="862" y="1760.8">RIM08</text><text x="864" y="1766.8">RIM11</text><text x="874" y="1773.8">RIM04</text><text x="875" y="1779.8">RIM06</text><text x="882" y="1786.8">RIM01</text><text x="882" y="1793.8">RIM05</text><text x="882" y="1799.8">RIM02</text><text x="895" y="1806.8">RIM03</text><text x="909" y="1813.8">RIM07</text><text x="927" y="1820.8">RIM09</text><text x="927" y="1826.8">RIM10</text>
<text x="865" y="1832.8">LIM01</text><text x="867" y="1839.8">BAY01</text><text x="887" y="1846.8">BAY02</text><text x="859" y="1852.8">PAJ02</text><text x="870" y="1859.8">MAN01</text><text x="890" y="1865.8">PAJ01</text>
<text x="865" y="1873.8">RAP01</text><text x="910" y="1879.8">RAP03</text><text x="949" y="1885.8">RAP02</text><text x="892" y="1892.8">RAP04</text><text x="919" y="1899.8">RAP05</text><text x="894" y="1906.8">WBP02</text><text x="884" y="1912.8">WBP03</text><text x="890" y="1918.8">WBP04</text><text x="894" y="1925.8">WBP01</text><text x="897" y="1932.8">WBP05</text>
<text x="904" y="1938.8">HOL06</text><text x="924" y="1945.8">HOL13</text><text x="930" y="1951.8">HOL07</text><text x="929" y="1959.8">HOL09</text><text x="925" y="1965.8">HOL02</text><text x="929" y="1972.8">HOL01</text><text x="929" y="1978.8">HOL03</text><text x="917" y="1985.8">HOL04</text><text x="927" y="1992.8">HOL08</text><text x="925" y="1998.8">HOL05</text>
<text x="929" y="2004.8">JER01</text><text x="935" y="2011.8">JER03</text><text x="934" y="2018.8">JER04</text><text x="930" y="2024.8">JER10</text><text x="935" y="2031.8">JER02</text><text x="969" y="2038.8">JER08</text><text x="969" y="2045.8">JER09</text><text x="950" y="2051.8">JER06</text><text x="955" y="2058.8">JER05</text><text x="959" y="2064.8">JER07</text>
<text x="855" y="2070.8">ANG06</text><text x="894" y="2078.8">ANG08</text><text x="902" y="2084.8">ANG03</text><text x="902" y="2090.8">ANG04</text><text x="907" y="2097.8">ANG02</text><text x="902" y="2104.8">ANG10</text><text x="939" y="2111.8">ANG09</text><text x="927" y="2117.8">ANG05</text><text x="919" y="2124.8">ANG07</text>
<text x="872" y="2131.8">ANG01</text><text x="912" y="2137.8">HER03</text><text x="922" y="2143.8">HER07</text><text x="915" y="2150.8">HER11</text><text x="914" y="2156.8">HER13</text><text x="917" y="2164.8">HER08</text><text x="930" y="2170.8">HER14</text><text x="967" y="2177.8">HER10</text><text x="955" y="2183.8">HER05</text><text x="955" y="2190.8">HER09</text><text x="939" y="2197.8">HER06</text><text x="947" y="2203.8">HER02</text><text x="947" y="2209.8">HER12</text><text x="927" y="2217.8">HER04</text><text x="937" y="2223.8">HER01</text><text x="939" y="2230.8">HER15</text><text x="972" y="2236.8">HER16</text><text x="986" y="2243.8">HER17</text><text x="986" y="2248.8">HER18</text>
</g>
</svg>
<div class="cap">
<div><b>Supplementary Figure S2.</b> Maximum likelihood tree</div>
<div>of 331 cattle individuals based on genome-wide</div>
<div>autosomal SNPs. Based on the reduced set of</div>
<div>autosomal SNPs (1,083,829), we reconstructed</div>
<div>maximum likelihood tree using IQ-TREE v1.6.12 with</div>
<div>the following options: GTR model with ascertainment</div>
<div>bias correction of the likelihood calculation (GTR</div>
<div class="l">+ASC), and 1,000 ultrafast bootstraps.</div>
</div>
</body></html>
